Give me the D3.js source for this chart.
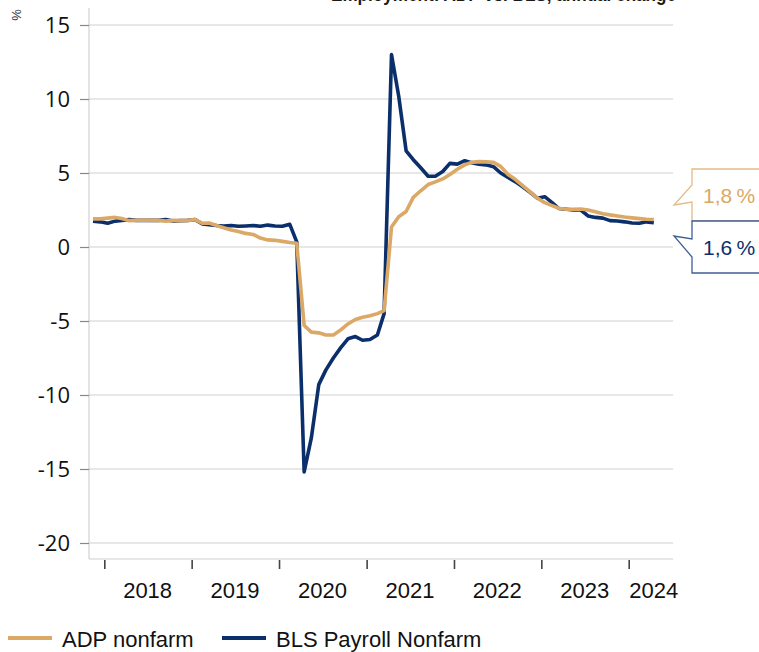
<!DOCTYPE html>
<html>
<head>
<meta charset="utf-8">
<script src="https://cdn.jsdelivr.net/npm/d3@7"></script>
<style>
  body { margin: 0; background: #fff; }
  svg { display: block; font-family: "Liberation Sans", Arial, sans-serif; }
</style>
</head>
<body>
<div id="chart"></div>
<script>
// monthly values, Nov 2017 .. Apr 2024 (y/y change, %)
const firstMonth = [2017, 10]; // Nov 2017 (month index 0-based)

const adpValues = [
    1.9, 1.9,
    1.95, 2.0, 1.92, 1.78, 1.8, 1.82, 1.8, 1.8, 1.75, 1.8, 1.78, 1.8,
    1.85, 1.6, 1.62, 1.45, 1.3, 1.15, 1.05, 0.92, 0.85, 0.6, 0.48, 0.45,
    0.38, 0.3, 0.25, -5.3, -5.75, -5.8, -5.95, -5.95, -5.6, -5.2, -4.9, -4.75,
    -4.65, -4.5, -4.3, 1.35, 2.05, 2.4, 3.35, 3.8, 4.22, 4.4, 4.6, 4.9,
    5.25, 5.55, 5.72, 5.77, 5.75, 5.72, 5.45, 4.9, 4.56, 4.15, 3.73, 3.3,
    3.0, 2.8, 2.62, 2.55, 2.55, 2.57, 2.5, 2.38, 2.25, 2.17, 2.1, 2.03,
    1.97, 1.92, 1.88, 1.86
];

const blsValues = [
    1.75, 1.7,
    1.6, 1.75, 1.8, 1.85, 1.8, 1.8, 1.8, 1.8, 1.85, 1.75, 1.78, 1.8,
    1.85, 1.55, 1.5, 1.45, 1.42, 1.45, 1.4, 1.42, 1.45, 1.4, 1.48, 1.42,
    1.4, 1.53, 0.35, -15.2, -12.9, -9.3, -8.3, -7.5, -6.8, -6.2, -6.05, -6.3,
    -6.25, -5.95, -4.5, 13.0, 10.2, 6.5, 5.9, 5.35, 4.78, 4.78, 5.1, 5.65,
    5.6, 5.83, 5.7, 5.6, 5.55, 5.43, 5.0, 4.7, 4.4, 4.07, 3.7, 3.3,
    3.4, 3.0, 2.6, 2.55, 2.5, 2.5, 2.1, 2.0, 1.95, 1.78, 1.76, 1.7,
    1.62, 1.6, 1.7, 1.64
];

const seriesNames = ["ADP nonfarm", "BLS Payroll Nonfarm"];
const seriesColors = ["#dba866", "#0b2f6b"];
const lastLabels = ["1,8\u2009%", "1,6\u2009%"];

const yTicks = [15, 10, 5, 0, -5, -10, -15, -20];
const yearLabels = [2018, 2019, 2020, 2021, 2022, 2023, 2024];

const width = 759, height = 652;
const plot = {left: 89, right: 673, top: 8, bottom: 559};

let svg = d3.select("#chart")
    .append("svg")
    .attr("width", width)
    .attr("height", height);

// dates, mid-month
let dates = adpValues.map((d, i) => new Date(firstMonth[0], firstMonth[1] + i, 15));

let x = d3.scaleTime()
    .domain([new Date(2018, 0, 1), new Date(2024, 0, 1)])
    .range([104.3, 628.7]);

let y = d3.scaleLinear()
    .domain([-20, 15])
    .range([543, 25]);

// title (mostly cut off at top edge, as in the source)
svg.append("text")
    .attr("x", 331)
    .attr("y", 1)
    .attr("textLength", 345)
    .attr("lengthAdjust", "spacingAndGlyphs")
    .style("font-weight", "bold")
    .style("font-size", "20px")
    .style("fill", "#1a1a1a")
    .text("Employment: ADP vs. BLS, annual change");

// gridlines
svg.append("g")
    .selectAll("line")
    .data(yTicks)
    .enter()
    .append("line")
    .attr("x1", plot.left)
    .attr("x2", plot.right)
    .attr("y1", d => y(d))
    .attr("y2", d => y(d))
    .style("stroke", "#cfcfcf")
    .style("stroke-width", 1.2);

// y axis line + baseline
svg.append("line")
    .attr("x1", plot.left).attr("x2", plot.left)
    .attr("y1", plot.top).attr("y2", plot.bottom)
    .style("stroke", "#d0d0d0").style("stroke-width", 1.2);
svg.append("line")
    .attr("x1", plot.left).attr("x2", plot.right)
    .attr("y1", plot.bottom).attr("y2", plot.bottom)
    .style("stroke", "#d0d0d0").style("stroke-width", 1.2);

// y axis (plain hyphen for negatives)
let yAxis = svg.append("g")
    .attr("transform", `translate(${plot.left}, 0)`)
    .call(d3.axisLeft(y).tickValues(yTicks).tickSize(9).tickPadding(10).tickFormat(d => String(d)));
yAxis.select(".domain").remove();
yAxis.selectAll(".tick line").style("stroke", "#888").style("stroke-width", 1.2);
yAxis.selectAll(".tick text")
    .style("font-family", "'Open Sans', sans-serif")
    .style("font-size", "22px")
    .style("fill", "#111");

// unit label
svg.append("text")
    .attr("transform", "translate(21, 15) rotate(-90)")
    .style("text-anchor", "middle")
    .style("font-size", "13px")
    .style("fill", "#333")
    .text("%");

// x axis ticks at year starts
let xAxis = svg.append("g")
    .attr("transform", `translate(0, ${plot.bottom + 1})`)
    .call(d3.axisBottom(x).ticks(d3.timeYear.every(1)).tickSize(9).tickFormat(""));
xAxis.select(".domain").remove();
xAxis.selectAll(".tick line").style("stroke", "#444").style("stroke-width", 1.6);

// year labels centred in each year (last one on final data month)
let lastDate = dates[dates.length - 1];
svg.append("g")
    .selectAll("text")
    .data(yearLabels)
    .enter()
    .append("text")
    .attr("x", function (d) {
        let mid = new Date(d, 6, 1);
        return mid > lastDate ? x(lastDate) : x(mid);
    })
    .attr("y", 598)
    .style("text-anchor", "middle")
    .style("font-size", "22px")
    .style("fill", "#111")
    .text(d => d);

// lines: BLS first, ADP on top
let line = d3.line()
    .x((d, i) => x(dates[i]))
    .y(d => y(d));

[[blsValues, 1], [adpValues, 0]].forEach(function (s) {
    svg.append("path")
        .datum(s[0])
        .attr("d", line)
        .style("fill", "none")
        .style("stroke", seriesColors[s[1]])
        .style("stroke-width", 3.6)
        .style("stroke-linejoin", "round");
});

// callouts at right
const calloutBorders = ["#e3bb86", "#3f5f95"];
let callouts = [
    {top: 169, bottom: 221, tipY: 205, a: 185, b: 202},
    {top: 221, bottom: 273, tipY: 236, a: 239, b: 257}
];
callouts.forEach(function (c, i) {
    let bx = 692, tipX = 674;
    let p = d3.path();
    p.moveTo(width + 2, c.top);
    p.lineTo(bx, c.top);
    p.lineTo(bx, c.a);
    p.lineTo(tipX, c.tipY);
    p.lineTo(bx, c.b);
    p.lineTo(bx, c.bottom);
    p.lineTo(width + 2, c.bottom);
    svg.append("path")
        .attr("d", p.toString())
        .style("fill", "#fff")
        .style("stroke", calloutBorders[i])
        .style("stroke-width", 1.3);
    svg.append("text")
        .attr("x", 703)
        .attr("y", (c.top + c.bottom) / 2 + 8)
        .style("font-size", "21px")
        .style("fill", seriesColors[i])
        .text(lastLabels[i]);
});

// legend
let legendX = [8, 222];
seriesNames.forEach(function (name, i) {
    svg.append("line")
        .attr("x1", legendX[i]).attr("x2", legendX[i] + 44)
        .attr("y1", 638).attr("y2", 638)
        .style("stroke", seriesColors[i])
        .style("stroke-width", 4);
    svg.append("text")
        .attr("x", legendX[i] + 54)
        .attr("y", 647)
        .style("font-size", "22px")
        .style("fill", "#111")
        .text(name);
});
</script>
</body>
</html>
